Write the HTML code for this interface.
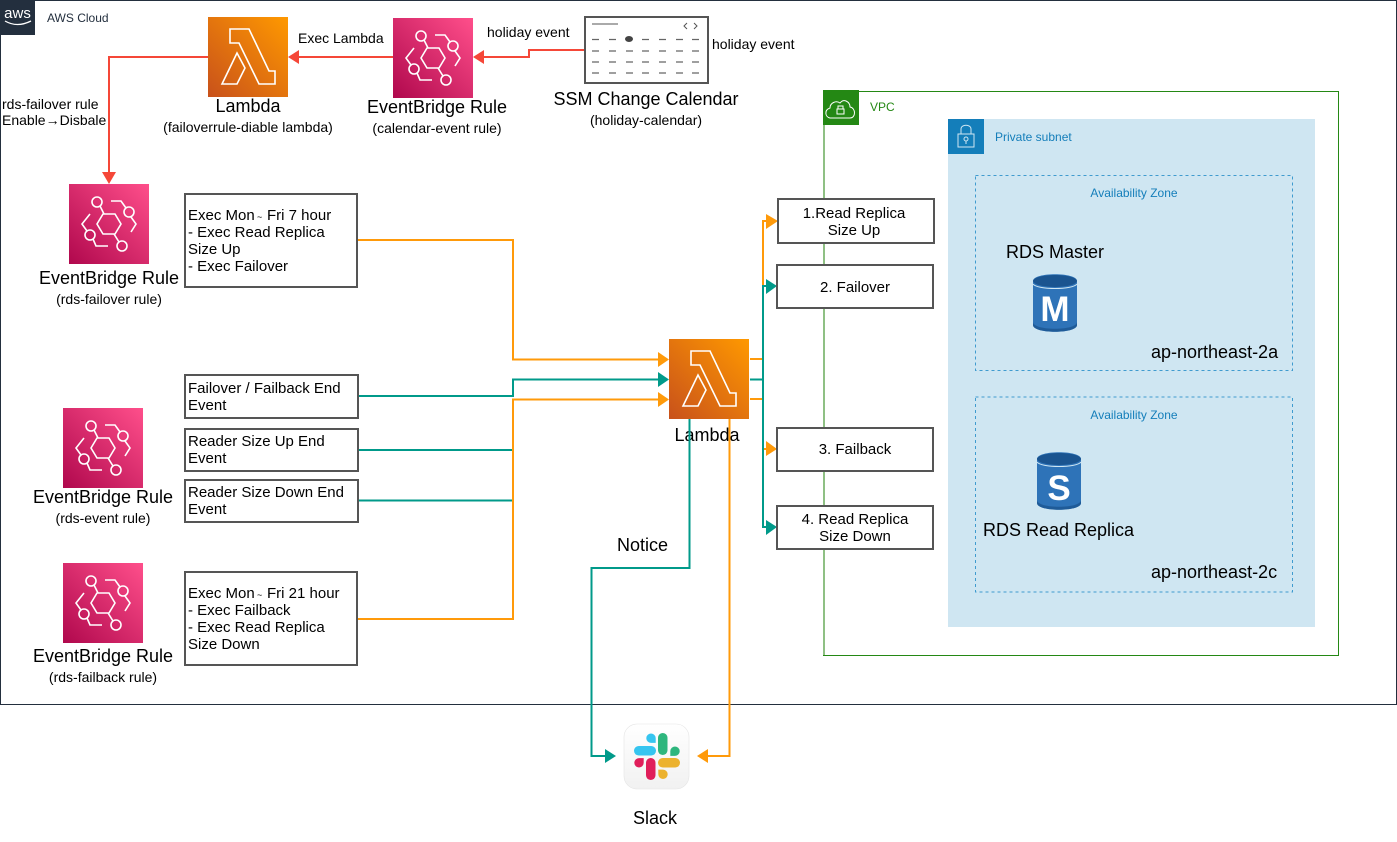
<!DOCTYPE html>
<html><head><meta charset="utf-8"><style>
html,body{margin:0;padding:0;background:#fff}
svg{display:block}
text{font-family:"Liberation Sans","Noto Sans CJK JP",sans-serif;fill:#000}
.b{fill:#fff;stroke:#555;stroke-width:2}
.l{fill:none;stroke-width:2}
.o{stroke:#ff9a0a}.t{stroke:#009a8a}.r{stroke:#f54738}
.s14{font-size:14px}.s15{font-size:15px}.s18{font-size:18px}
.m{text-anchor:middle}
.ic{fill:none;stroke:#fff;stroke-width:1.6}
</style></head><body>
<svg width="1397" height="842" viewBox="0 0 1397 842" xmlns="http://www.w3.org/2000/svg">
<defs>
<linearGradient id="gl" x1="0" y1="1" x2="1" y2="0"><stop offset="0" stop-color="#c8511b"/><stop offset="1" stop-color="#ff9900"/></linearGradient>
<linearGradient id="ge" x1="0" y1="1" x2="1" y2="0"><stop offset="0" stop-color="#b0084d"/><stop offset="1" stop-color="#ff4f8b"/></linearGradient>
<linearGradient id="gs" x1="0" y1="0" x2="0" y2="1"><stop offset="0" stop-color="#ffffff"/><stop offset="1" stop-color="#f1f1f1"/></linearGradient>
<g id="lam"><rect width="80" height="80" fill="url(#gl)"/>
<path class="ic" d="M22 12H41L61 54H67V67H51L31 26H22ZM14 67L29 36L37 51L29 67Z"/></g>
<g id="eb"><rect width="80" height="80" fill="url(#ge)"/>
<g class="ic"><path d="M28 40L34 30H46L52 40L46 50H34Z"/>
<circle cx="28" cy="18" r="5"/><circle cx="60" cy="28" r="5"/><circle cx="21" cy="51" r="5"/><circle cx="53" cy="62" r="5"/>
<path d="M31 22L35 30M45 50L50 58M42 17H52L57 24M62 33L67 40L62 48M21 30L13 40L18 47M24 55L27 62H39"/></g></g>
<g id="cyl"><path d="M0 7C0 -2 44 -2 44 7V51C44 60 0 60 0 51Z" fill="#2e73b8"/>
<path d="M0 51C0 60 44 60 44 51V48C44 57 0 57 0 48Z" fill="#1f5b98"/>
<ellipse cx="22" cy="7" rx="22" ry="6" fill="#1a5490"/>
<path d="M0 10C4 16 40 16 44 10" fill="none" stroke="#cfe6f2" stroke-width="1"/></g>
</defs>

<rect x="0.5" y="0.5" width="1396" height="704" fill="#fff" stroke="#232f3e" stroke-width="1"/>
<rect width="35" height="35" fill="#232f3e"/>
<text x="17.5" y="18" font-size="15" text-anchor="middle" style="fill:#fff">aws</text>
<path d="M5 21Q17 28 31 21" fill="none" stroke="#fff" stroke-width="1.3"/>
<text x="47" y="22" font-size="12" style="fill:#232f3e">AWS Cloud</text>

<!-- VPC -->
<path d="M824 91V655" fill="none" stroke="#8fc084" stroke-width="2"/>
<path d="M823 91.500H1338.500V655.500H823" fill="none" stroke="#248814" stroke-width="1"/>
<rect x="823" y="90" width="36" height="35" fill="#248814"/>
<path d="M830 118C825 117 824 110 830 108C830 103 836 100 840 103C844 98 850 102 850 107C856 108 856 118 850 118Z" fill="none" stroke="#fff" stroke-width="1"/>
<rect x="837" y="109" width="7" height="5" fill="none" stroke="#fff"/><path d="M838 109V106H843V109" fill="none" stroke="#fff"/>
<text x="870" y="111" font-size="12" style="fill:#248814">VPC</text>
<rect x="948" y="119" width="367" height="508" fill="#cfe6f2"/>
<rect x="948" y="119" width="36" height="35" fill="#147eba"/>
<rect x="958" y="134" width="16" height="13" fill="none" stroke="#cfe6f2" stroke-width="1"/>
<path d="M961 134V129C961 124 971 124 971 129V134" fill="none" stroke="#cfe6f2"/>
<circle cx="966" cy="139" r="2" fill="none" stroke="#cfe6f2"/><path d="M966 141V144" stroke="#cfe6f2"/>
<text x="995" y="141" font-size="12" style="fill:#147eba">Private subnet</text>
<rect x="975.500" y="175.500" width="317" height="195" fill="none" stroke="#3f9bcf" stroke-dasharray="3 3" stroke-width="1"/>
<rect x="975.500" y="397" width="317" height="195" fill="none" stroke="#3f9bcf" stroke-dasharray="3 3" stroke-width="1"/>
<text x="1134" y="197" font-size="12" class="m" style="fill:#147eba">Availability Zone</text>
<text x="1134" y="419" font-size="12" class="m" style="fill:#147eba">Availability Zone</text>
<use href="#cyl" x="1033" y="274"/>
<text x="1055" y="321" font-size="35" font-weight="700" class="m" style="fill:#fff">M</text>
<use href="#cyl" x="1037" y="452"/>
<text x="1059" y="500" font-size="35" font-weight="700" class="m" style="fill:#fff">S</text>
<text x="1006" y="258" class="s18">RDS Master</text>
<text x="1151" y="358" class="s18">ap-northeast-2a</text>
<text x="983" y="536" class="s18">RDS Read Replica</text>
<text x="1151" y="578" class="s18">ap-northeast-2c</text>

<!-- Top row -->
<use href="#lam" x="208" y="17"/>
<use href="#eb" x="393" y="18"/>
<path class="l r" d="M208 57H109V174"/><polygon points="102,172 116,172 109,184" fill="#f54738"/>
<path class="l r" d="M393 57H298"/><polygon points="299,50 299,64 288,57" fill="#f54738"/>
<path class="l r" d="M585 50H529V57H483"/><polygon points="484,50 484,64 473,57" fill="#f54738"/>
<text x="298" y="43" class="s14">Exec Lambda</text>
<text x="487" y="37" class="s14">holiday event</text>
<text x="712" y="49" class="s14">holiday event</text>
<text x="248" y="112" class="s18 m">Lambda</text>
<text x="248" y="132" class="s14 m">(failoverrule-diable lambda)</text>
<text x="437" y="113" class="s18 m">EventBridge Rule</text>
<text x="437" y="133" class="s14 m">(calendar-event rule)</text>
<text x="646" y="105" class="s18 m">SSM Change Calendar</text>
<text x="646" y="125" class="s14 m">(holiday-calendar)</text>
<text x="2" y="109" class="s14">rds-failover rule</text>
<text x="2" y="125" class="s14">Enable→Disbale</text>

<!-- Calendar -->
<rect x="585" y="17" width="123" height="66" class="b"/>
<path d="M592 24H618" stroke="#555"/>
<path d="M687 23L684 26L687 29M694 23L697 26L694 29" fill="none" stroke="#555"/>
<path d="M592 39.500h7M609 39.500h7M642 39.500h7M659 39.500h7M676 39.500h7M692 39.500h7M592 51h7M609 51h7M626 51h7M642 51h7M659 51h7M676 51h7M692 51h7M592 62h7M609 62h7M626 62h7M642 62h7M659 62h7M676 62h7M692 62h7M592 73h7M609 73h7M626 73h7M642 73h7M659 73h7M676 73h7M692 73h7" stroke="#666" stroke-width="1.200"/>
<ellipse cx="629" cy="39" rx="4" ry="3" fill="#444"/>

<!-- Left -->
<use href="#eb" x="69" y="184"/>
<use href="#eb" x="63" y="408"/>
<use href="#eb" x="63" y="563"/>
<text x="109" y="284" class="s18 m">EventBridge Rule</text>
<text x="109" y="304" class="s14 m">(rds-failover rule)</text>
<text x="103" y="503" class="s18 m">EventBridge Rule</text>
<text x="103" y="523" class="s14 m">(rds-event rule)</text>
<text x="103" y="662" class="s18 m">EventBridge Rule</text>
<text x="103" y="682" class="s14 m">(rds-failback rule)</text>

<!-- Connectors left -->
<path class="l o" d="M357 240H513V359.500H660"/>
<path class="l t" d="M358 396H513V379.500H660M358 450H513M358 500.500H513"/>
<path class="l o" d="M357 619H513V399.500H660"/>
<polygon points="658,352 658,367 669,359.500" fill="#ff9a0a"/>
<polygon points="658,372 658,387 669,379.500" fill="#009a8a"/>
<polygon points="658,392 658,407 669,399.500" fill="#ff9a0a"/>

<!-- Boxes -->
<rect x="185" y="194" width="172" height="93" class="b"/>
<rect x="185" y="375" width="173" height="43" class="b"/>
<rect x="185" y="429" width="173" height="42" class="b"/>
<rect x="185" y="480" width="173" height="42" class="b"/>
<rect x="185" y="572" width="172" height="93" class="b"/>
<g class="s15">
<text x="188" y="220">Exec Mon<tspan x="257" font-size="9">~</tspan><tspan x="267">Fri 7 hour</tspan></text>
<text x="188" y="237">- Exec Read Replica</text>
<text x="188" y="254">Size Up</text>
<text x="188" y="271">- Exec Failover</text>
<text x="188" y="393">Failover / Failback End</text>
<text x="188" y="410">Event</text>
<text x="188" y="446">Reader Size Up End</text>
<text x="188" y="463">Event</text>
<text x="188" y="497">Reader Size Down End</text>
<text x="188" y="514">Event</text>
<text x="188" y="598">Exec Mon<tspan x="257" font-size="9">~</tspan><tspan x="267">Fri 21 hour</tspan></text>
<text x="188" y="615">- Exec Failback</text>
<text x="188" y="632">- Exec Read Replica</text>
<text x="188" y="649">Size Down</text>
</g>

<!-- Center lambda -->
<text x="707" y="441" class="s18 m">Lambda</text>
<use href="#lam" x="669" y="339"/>
<path class="l o" d="M750 359H763V221H768M750 399H763V449H768"/>
<path class="l t" d="M750 379.500H763V286H768M763 379.500V527H768"/>
<polygon points="766,214 766,229 778,221" fill="#ff9a0a"/>
<polygon points="766,279 766,294 777,286" fill="#009a8a"/>
<polygon points="766,441 766,456 777,449" fill="#ff9a0a"/>
<polygon points="766,520 766,535 777,527" fill="#009a8a"/>

<rect x="778" y="199" width="156" height="44" class="b"/>
<rect x="777" y="265" width="156" height="43" class="b"/>
<rect x="777" y="428" width="156" height="43" class="b"/>
<rect x="777" y="506" width="156" height="43" class="b"/>
<g class="s15 m">
<text x="854" y="218">1.Read Replica</text>
<text x="854" y="235">Size Up</text>
<text x="855" y="292">2. Failover</text>
<text x="855" y="454">3. Failback</text>
<text x="855" y="524">4. Read Replica</text>
<text x="855" y="541">Size Down</text>
</g>

<!-- Slack connectors -->
<path class="l t" d="M689.500 419V568H591.500V756H606"/>
<polygon points="605,749 605,763 616,756" fill="#009a8a"/>
<path class="l o" d="M729.500 419V756H707"/>
<polygon points="708,749 708,763 697,756" fill="#ff9a0a"/>
<text x="617" y="551" class="s18">Notice</text>

<!-- Slack -->
<rect x="624" y="724" width="65" height="65" rx="13" fill="url(#gs)" stroke="#e4e4e4" stroke-width="0.6"/>
<rect x="634" y="746" width="22" height="9.500" rx="4.750" fill="#36c5f0"/>
<path d="M651 733.500a4.700 4.700 0 0 0 0 9.400h4.700v-4.700a4.700 4.700 0 0 0 -4.700 -4.700z" fill="#36c5f0"/>
<rect x="658" y="733" width="9.500" height="22" rx="4.750" fill="#2eb67d"/>
<path d="M675 746.500a4.700 4.700 0 0 1 0 9.400h-4.700v-4.700a4.700 4.700 0 0 1 4.700 -4.700z" fill="#2eb67d"/>
<rect x="646" y="758" width="9.500" height="22" rx="4.750" fill="#e01e5a"/>
<path d="M639 767.500a4.700 4.700 0 0 1 0 -9.400h4.700v4.700a4.700 4.700 0 0 1 -4.700 4.700z" fill="#e01e5a"/>
<rect x="658" y="758" width="22" height="9.500" rx="4.750" fill="#ecb22e"/>
<path d="M663 779a4.700 4.700 0 0 0 0 -9.400h-4.700v4.700a4.700 4.700 0 0 0 4.700 4.700z" fill="#ecb22e"/>
<text x="655" y="824" class="s18 m">Slack</text>
</svg>
</body></html>
